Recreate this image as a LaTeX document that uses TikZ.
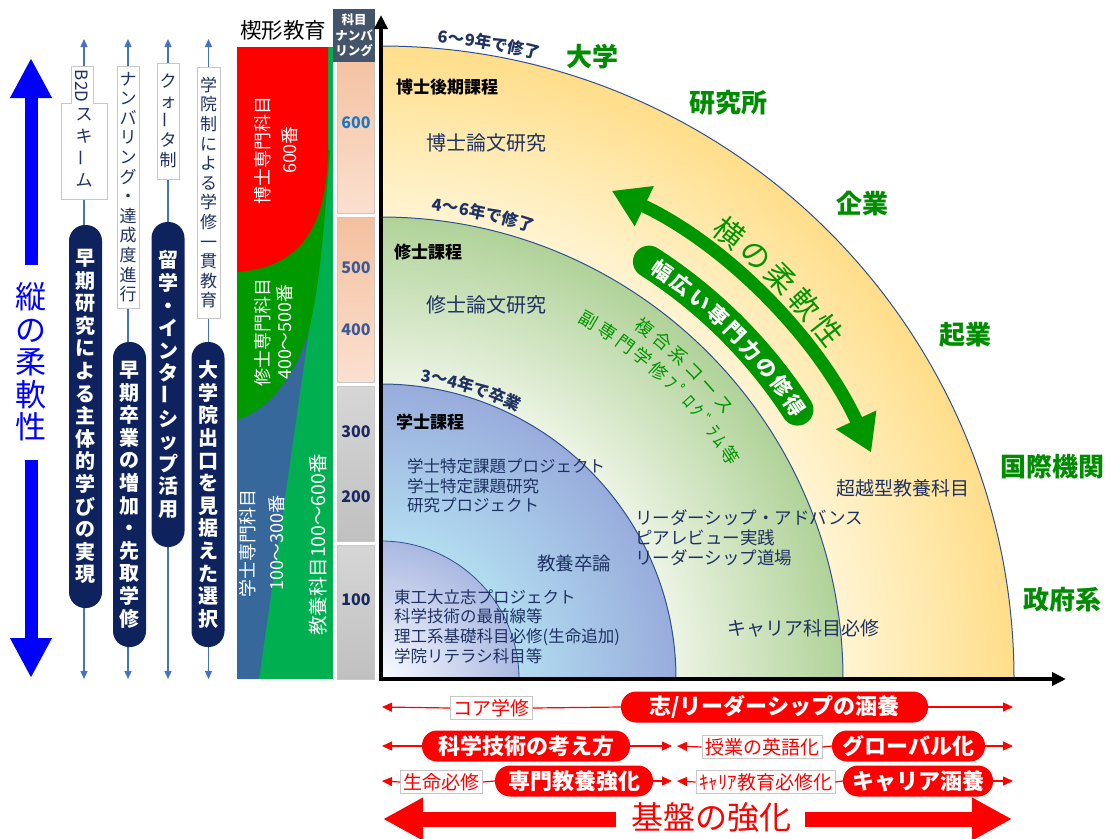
\documentclass[tikz,border=0pt]{standalone}
\usepackage{fontspec}
\usepackage{graphicx}
\setmainfont{Noto Sans CJK JP}
\usetikzlibrary{arrows.meta,decorations.text,calc}

\definecolor{navyT}{RGB}{31,50,99}
\definecolor{pillnavy}{RGB}{14,34,94}
\definecolor{lineblue}{RGB}{68,114,196}
\definecolor{arcline}{RGB}{47,82,143}
\definecolor{grn}{RGB}{0,150,0}
\definecolor{grnlab}{RGB}{0,140,0}
\definecolor{ocl}{RGB}{255,244,210}
\definecolor{ocd}{RGB}{255,222,138}
\definecolor{gcl}{RGB}{236,244,228}
\definecolor{gcd}{RGB}{176,210,152}
\definecolor{bcl}{RGB}{178,220,240}
\definecolor{bcd}{RGB}{152,172,220}
\definecolor{icl}{RGB}{250,252,255}
\definecolor{icd}{RGB}{170,184,226}
\definecolor{dkgreen}{RGB}{0,153,0}
\definecolor{brgreen}{RGB}{0,176,80}
\definecolor{blueblk}{RGB}{54,104,155}
\definecolor{slate}{RGB}{68,84,106}
\definecolor{peachT}{RGB}{244,192,158}
\definecolor{peachB}{RGB}{251,224,208}
\definecolor{grayT}{RGB}{214,214,214}
\definecolor{grayB}{RGB}{192,192,192}
\definecolor{nsix}{RGB}{31,120,196}
\definecolor{nfive}{RGB}{60,90,150}
\definecolor{nthree}{RGB}{25,40,95}
\definecolor{boxgray}{RGB}{200,200,200}

% the path bounding box maps onto the central 50bp square: radius R <-> 25bp
\pgfdeclareradialshading{shOrange}{\pgfpoint{0bp}{0bp}}{color(0bp)=(ocl); color(18.25bp)=(ocl); color(25bp)=(ocd); color(50bp)=(ocd)}
\pgfdeclareradialshading{shGreen}{\pgfpoint{0bp}{0bp}}{color(0bp)=(gcl); color(15.96bp)=(gcl); color(25bp)=(gcd); color(50bp)=(gcd)}
\pgfdeclareradialshading{shBlue}{\pgfpoint{0bp}{0bp}}{color(0bp)=(bcl); color(11.7bp)=(bcl); color(25bp)=(bcd); color(50bp)=(bcd)}
\pgfdeclareradialshading{shInner}{\pgfpoint{0bp}{0bp}}{color(0bp)=(icl); color(25bp)=(icd); color(50bp)=(icd)}

\newcommand\myfs[2]{\fontsize{#1}{#2}\selectfont}
\newcommand\vbar{\raisebox{0.2em}[0pt][0pt]{\rotatebox[origin=c]{90}{ー}}}

\begin{document}
\begin{tikzpicture}[x=1pt,y=-1pt,
  wlabel/.style={draw=boxgray, fill=white, line width=0.8pt, text=navyT, align=center, font=\myfs{17}{19.6}, inner sep=0pt},
  vpill/.style={fill=pillnavy, rounded corners=16pt, text=white, align=center, font=\myfs{20}{22.6}\bfseries, minimum width=33pt, inner sep=0pt},
  bline/.style={draw=lineblue, line width=1.3pt, {Triangle[length=8pt,width=7pt]}-{Triangle[length=8pt,width=7pt]}},
  bigblue/.style={draw=blue, line width=13pt, -{Triangle[length=40pt,width=39pt]}},
  blocktext/.style={text=white, align=center, rotate=90, inner sep=0pt},
  numlab/.style={font=\myfs{16}{16}\bfseries, inner sep=0pt},
  qtext/.style={text=navyT, inner sep=0pt},
  qhead/.style={text=black, font=\myfs{17}{17}\bfseries, inner sep=0pt},
  glab/.style={text=grnlab, font=\myfs{26}{26}\bfseries, inner sep=0pt},
  axisline/.style={line width=3.5pt, -{Triangle[length=14pt,width=13pt]}},
  rbox/.style={draw=boxgray, fill=white, line width=0.8pt, text=red, font=\myfs{19}{19}, inner xsep=3pt, inner ysep=0pt, minimum height=23pt},
  rpill/.style={fill=red, rounded corners=15pt, text=white, font=\myfs{22}{22}\bfseries, minimum height=31pt, inner sep=0pt},
  rarrow/.style={draw=red, line width=1.2pt, -{Triangle[length=10pt,width=9pt]}},
  rline/.style={draw=red, line width=1.2pt},
  bigred/.style={draw=red, line width=15pt, -{Triangle[length=40pt,width=40pt]}},
  arctext/.style={decorate, decoration={text along path, text align={fit to path}, text color=#1}},
  arctextc/.style={decorate, decoration={text along path, text align={center}, text color=#1}},
]
\useasboundingbox (0,0) rectangle (1116,838);
\coordinate (O) at (381,679);

% ---------- left vertical thin lines ----------
\foreach \n/\x in {1/84,2/128,3/168,4/208.5}{
  \coordinate (top\n) at (\x,39);
  \coordinate (bot\n) at (\x,679);
  \draw[bline] (bot\n) -- (top\n);
}

% white labels
\draw[draw=boxgray, fill=white, line width=0.8pt] (71,66) -- (93,66) -- (93,103) -- (107,103) -- (107,199) -- (61,199) -- (61,103) -- (71,103) -- cycle;
\node[rotate=-90, text=navyT, font=\myfs{17}{17}, inner sep=0pt] (b2d) at (82,86) {B2D};
\node[text=navyT, align=center, font=\myfs{17}{22}, inner sep=0pt] (skim) at (84,148) {ス\\キ\\\vbar\\ム};
\node[wlabel, minimum width=22pt, minimum height=242pt] (numb) at (128,187) {ナ\\ン\\バ\\リ\\ン\\グ\\・\\達\\成\\度\\進\\行};
\node[wlabel, minimum width=22pt, minimum height=116pt] (quar) at (168,121) {ク\\ォ\\\vbar\\タ\\制};
\node[wlabel, minimum width=23pt, minimum height=251pt] (gakuin) at (208.5,192.5) {学\\院\\制\\に\\よ\\る\\学\\修\\一\\貫\\教\\育};

% navy pills
\node[vpill, minimum height=383pt] (p1) at (85.5,416.5) {早\\期\\研\\究\\に\\よ\\る\\主\\体\\的\\学\\び\\の\\実\\現};
\node[vpill, minimum height=305pt] (p2) at (129.5,494.5) {早\\期\\卒\\業\\の\\増\\加\\・\\先\\取\\学\\修};
\node[vpill, minimum height=325pt] (p3) at (168,384.5) {留\\学\\・\\イ\\ン\\タ\\\vbar\\シ\\ッ\\プ\\活\\用};
\node[vpill, minimum height=305pt] (p4) at (208,494.5) {大\\学\\院\\出\\口\\を\\見\\据\\え\\た\\選\\択};

% big blue arrows
\coordinate (vu1) at (31,265); \coordinate (vu2) at (31,58);
\coordinate (vd1) at (31,460); \coordinate (vd2) at (31,678);
\draw[bigblue] (vu1) -- (vu2);
\draw[bigblue] (vd1) -- (vd2);
\node[text=blue, font=\myfs{31}{32.5}, align=center, inner sep=0pt] (tate) at (31,362) {縦\\の\\柔\\軟\\性};

% ---------- wedge block ----------
\node[font=\myfs{21.5}{21.5}, inner sep=0pt] (kusabi) at (283,30) {楔形教育};
\fill[brgreen] (237,47) rectangle (333,679);
\fill[dkgreen] (237,150) -- (330,150) .. controls (324,230) and (319,290) .. (309,330) -- (301,380) -- (237,460) -- cycle;
\fill[blueblk] (237,420) .. controls (265,412) and (295,380) .. (309,330) -- (259,679) -- (237,679) -- cycle;
\fill[red] (237,47) -- (328,47) -- (328,150) .. controls (327,240) and (290,268) .. (237,272) -- cycle;
\node[blocktext, font=\myfs{18}{27}] (phd) at (276,150) {博士専門科目\\600番};
\node[blocktext, font=\myfs{18}{22}] (mas) at (274,332) {修士専門科目\\400～500番};
\node[blocktext, font=\myfs{18}{29}] (bac) at (262,543) {学士専門科目\\100～300番};
\node[blocktext, font=\myfs{19.5}{19.5}] (lib) at (318,545) {教養科目100～600番};

% ---------- numbering column ----------
\shade[top color=peachT, bottom color=peachB, draw=boxgray, line width=1pt] (337,50) rectangle (374,213);
\shade[top color=peachT, bottom color=peachB, draw=boxgray, line width=1pt] (337,217) rectangle (374,382);
\shade[top color=grayT, bottom color=grayB, draw=boxgray, line width=1pt] (337,386) rectangle (374,541);
\shade[top color=grayT, bottom color=grayB, draw=boxgray, line width=1pt] (337,545) rectangle (374,679);
\node[numlab, text=nsix] (n600) at (356,123) {600};
\node[numlab, text=nfive] (n500) at (356,268) {500};
\node[numlab, text=nfive] (n400) at (356,330) {400};
\node[numlab, text=nthree] (n300) at (356,432) {300};
\node[numlab, text=nthree] (n200) at (356,497) {200};
\node[numlab, text=nthree] (n100) at (356,600) {100};
\node[fill=slate, text=white, font=\myfs{12.5}{15.5}\bfseries, align=center, minimum width=42pt, minimum height=53pt, inner sep=0pt] (numhead) at (354,35.5) {科目\\ナンバ\\リング};

% ---------- quadrant ----------
\begin{scope}
\clip (381,0) rectangle (1116,679);
\shade[shading=shOrange] (O) circle[radius=633pt];
\draw[arcline, line width=1pt] (O) circle[radius=633pt];
\shade[shading=shGreen] (O) circle[radius=462pt];
\draw[arcline, line width=1pt] (O) circle[radius=462pt];
\shade[shading=shBlue] (O) circle[radius=295pt];
\draw[arcline, line width=1pt] (O) circle[radius=295pt];
\shade[shading=shInner] (O) circle[radius=138pt];
\draw[arcline, line width=0.8pt] (O) circle[radius=138pt];
\end{scope}

% arc labels
\path[arctextc=navyT, decoration={text={|\myfs{16.5}{16.5}\bfseries|6～9年で修了}}] ($(O)+(88:639pt)$) arc[start angle=88, end angle=72.6, radius=639pt];
\path[arctextc=navyT, decoration={text={|\myfs{16.5}{16.5}\bfseries|4～6年で修了}}] ($(O)+(87.5:471pt)$) arc[start angle=87.5, end angle=67.6, radius=471pt];
\path[arctextc=navyT, decoration={text={|\myfs{16.5}{16.5}\bfseries|3～4年で卒業}}] ($(O)+(88:300pt)$) arc[start angle=88, end angle=57.4, radius=300pt];

% quadrant texts
\node[qhead] (h1) at (447,87) {博士後期課程};
\node[qtext, font=\myfs{20}{20}] (phdres) at (486,143) {博士論文研究};
\node[qhead] (h2) at (428,252) {修士課程};
\node[qtext, font=\myfs{20}{20}] (masres) at (486,305) {修士論文研究};
\node[qhead] (h3) at (430,422) {学士課程};
\node[qtext, font=\myfs{16.5}{19.5}, align=left, anchor=west] (bacres) at (407,486) {学士特定課題プロジェクト\\学士特定課題研究\\研究プロジェクト};
\node[qtext, font=\myfs{18.5}{18.5}] (kyoso) at (574,563) {教養卒論};
\node[qtext, font=\myfs{16.5}{19.7}, align=left, anchor=west] (first) at (394,626.5) {東工大立志プロジェクト\\科学技術の最前線等\\理工系基礎科目必修(生命追加)\\学院リテラシ科目等};
\node[qtext, font=\myfs{17.5}{20}, align=left, anchor=west] (lead) at (635,538) {リーダーシップ・アドバンス\\ピアレビュー実践\\リーダーシップ道場};
\node[qtext, font=\myfs{19}{19}] (career) at (803,628) {キャリア科目必修};
\node[qtext, font=\myfs{19}{19}] (chou) at (903,488) {超越型教養科目};

% green curved texts
\path[arctext=grn, decoration={text={|\myfs{18}{18}|複合系コース}}] ($(O)+(54.3:433pt)$) arc[start angle=54.3, end angle=37.5, radius=433pt];
\path[arctext=grn, decoration={text={|\myfs{18}{18}|副専門学修ﾌﾟﾛｸﾞﾗﾑ等}}] ($(O)+(61.2:408pt)$) arc[start angle=61.2, end angle=31.4, radius=408pt];
\path[arctext=grn, decoration={text={|\myfs{30}{30}|横の柔軟性}}] ($(O)+(53.6:555pt)$) arc[start angle=53.6, end angle=36.4, radius=555pt];

% green double arrow
\draw[grn, line width=13pt, {Triangle[length=36pt,width=42pt]}-{Triangle[length=36pt,width=42pt]}] ($(O)+(64.7:540pt)$) arc[start angle=64.7, end angle=24.8, radius=540pt];
% green pill
\draw[grn, line width=32pt, line cap=round] ($(O)+(57.3:496pt)$) arc[start angle=57.3, end angle=32.9, radius=496pt];
\path[arctext=white, decoration={text={|\myfs{20.5}{20.5}\bfseries|幅広い専門力の修得}}] ($(O)+(56.6:488pt)$) arc[start angle=56.6, end angle=32.2, radius=488pt];

% outside green labels
\node[glab] (daigaku) at (592,57) {大学};
\node[glab] (kenkyu) at (728,103) {研究所};
\node[glab] (kigyo) at (862,204) {企業};
\node[glab] (kigyo2) at (965,335) {起業};
\node[glab] (kokusai) at (1052,467) {国際機関};
\node[glab] (seifu) at (1062,600) {政府系};

% axes
\coordinate (ytop) at (381,15);
\coordinate (xend) at (1066,679);
\coordinate (corner) at (381,680.75);
\coordinate (cornerx) at (379.25,679);
\draw[axisline] (corner) -- (ytop);
\draw[axisline] (cornerx) -- (xend);

% ---------- bottom rows ----------
\coordinate (r1L) at (382,707); \coordinate (r1R) at (1013,707);
\node[rbox] (core) at (491.5,708) {コア学修};
\node[rpill, minimum width=307pt] (kokoro) at (774.5,707) {志/リーダーシップの涵養};
\draw[rarrow] (core.west) -- (r1L);
\draw[rline] (core.east) -- (kokoro.west);
\draw[rarrow] (kokoro.east) -- (r1R);

\coordinate (r2L) at (382,746); \coordinate (r2M1) at (672,746); \coordinate (r2M2) at (677,746); \coordinate (r2R) at (1013,746);
\node[rpill, minimum width=208pt] (sci) at (526,746) {科学技術の考え方};
\node[rbox] (eng) at (762,747) {授業の英語化};
\node[rpill, minimum width=153pt] (glob) at (908.5,746) {グローバル化};
\draw[rarrow] (sci.west) -- (r2L);
\draw[rarrow] (sci.east) -- (r2M1);
\draw[rarrow] (eng.west) -- (r2M2);
\draw[rline] (eng.east) -- (glob.west);
\draw[rarrow] (glob.east) -- (r2R);

\coordinate (r3L) at (382,781); \coordinate (r3M1) at (672,781); \coordinate (r3M2) at (677,781); \coordinate (r3R) at (1013,781);
\node[rbox] (life) at (441.5,782) {生命必修};
\node[rpill, minimum width=158pt] (spec) at (574,781) {専門教養強化};
\node[rbox] (car) at (765.5,782) {ｷｬﾘｱ教育必修化};
\node[rpill, minimum width=150pt] (carp) at (918,781) {キャリア涵養};
\draw[rarrow] (life.west) -- (r3L);
\draw[rline] (life.east) -- (spec.west);
\draw[rarrow] (spec.east) -- (r3M1);
\draw[rarrow] (car.west) -- (r3M2);
\draw[rline] (car.east) -- (carp.west);
\draw[rarrow] (carp.east) -- (r3R);

\coordinate (bl1) at (616,819); \coordinate (bl2) at (383,819);
\coordinate (br1) at (805,819); \coordinate (br2) at (1012,819);
\draw[bigred] (bl1) -- (bl2);
\draw[bigred] (br1) -- (br2);
\node[text=red, font=\myfs{32}{32}, inner sep=0pt] (kiban) at (711,817) {基盤の強化};

\end{tikzpicture}
\end{document}
